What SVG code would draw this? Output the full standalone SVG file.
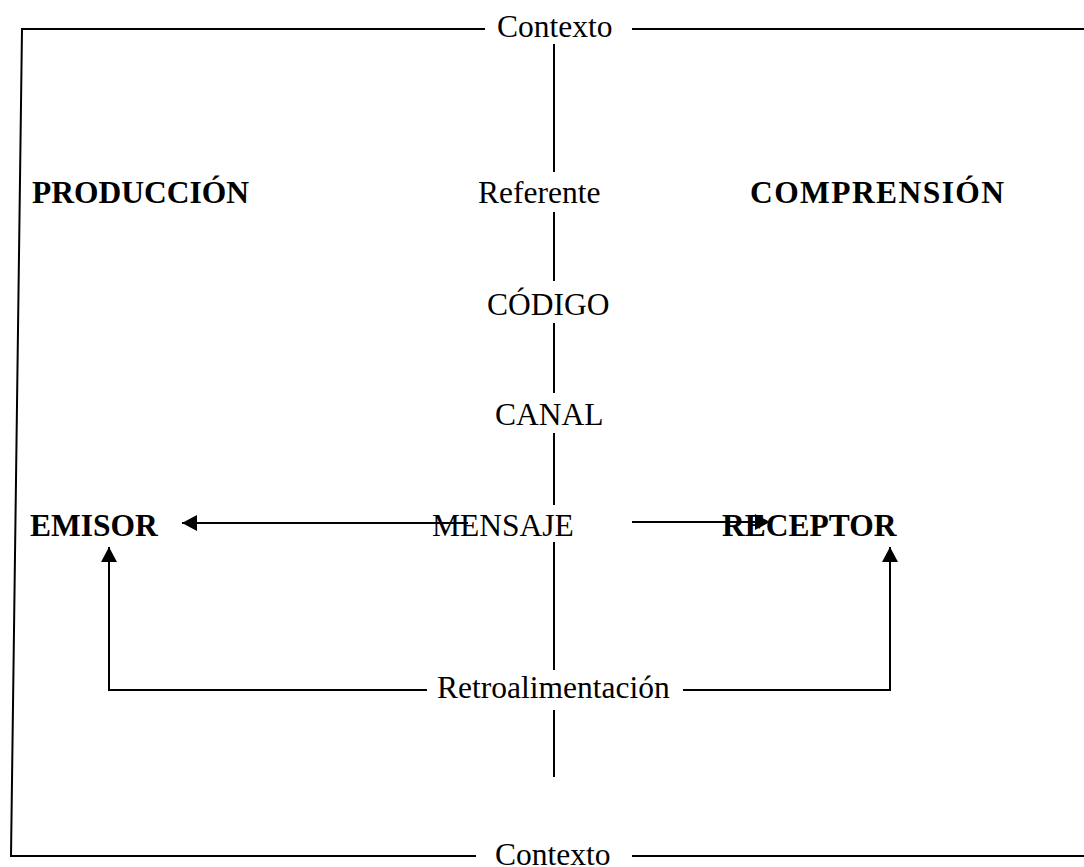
<svg xmlns="http://www.w3.org/2000/svg" width="1084" height="867" viewBox="0 0 1084 867">
<style>
text{font-family:"Liberation Serif","Times New Roman",serif;font-size:31.5px;fill:#000}
.b{font-weight:bold}
.ln{stroke:#000;stroke-width:2;fill:none}
</style>
<defs>
<marker id="ah" markerWidth="16" markerHeight="16" refX="15" refY="8" orient="auto" markerUnits="userSpaceOnUse">
<path d="M0,0 L15,8 L0,16 Z" fill="#000"/>
</marker>
</defs>
<rect width="1084" height="867" fill="#fff"/>
<g id="connectors">
<path class="ln" d="M485,29 L22,29 L11,856 L476,856"/>
<line class="ln" x1="632" y1="29" x2="1084" y2="29"/>
<line class="ln" x1="632" y1="856" x2="1084" y2="856"/>
<line class="ln" x1="554" y1="44" x2="554" y2="172"/>
<line class="ln" x1="554" y1="212" x2="554" y2="281"/>
<line class="ln" x1="554" y1="323" x2="554" y2="393"/>
<line class="ln" x1="554" y1="433" x2="554" y2="505"/>
<line class="ln" x1="554" y1="542" x2="554" y2="670"/>
<line class="ln" x1="554" y1="710" x2="554" y2="777"/>
<line class="ln" x1="468" y1="523" x2="182" y2="523" marker-end="url(#ah)"/>
<line class="ln" x1="632" y1="522" x2="770" y2="522" marker-end="url(#ah)"/>
<path class="ln" d="M427,690 L109,690 L109,547" marker-end="url(#ah)"/>
<path class="ln" d="M683,690 L890,690 L890,547" marker-end="url(#ah)"/>
</g>
<g id="contexto-top"><text x="497" y="37">Contexto</text></g>
<g id="contexto-bottom"><text x="495" y="865">Contexto</text></g>
<g id="produccion"><text class="b" x="32" y="203">PRODUCCIÓN</text></g>
<g id="comprension"><text class="b" x="750" y="203" textLength="254" lengthAdjust="spacing">COMPRENSIÓN</text></g>
<g id="referente"><text x="478" y="203">Referente</text></g>
<g id="codigo"><text x="487" y="315">CÓDIGO</text></g>
<g id="canal"><text x="495" y="425">CANAL</text></g>
<g id="mensaje"><text x="432" y="536">MENSAJE</text></g>
<g id="emisor"><text class="b" x="30" y="536">EMISOR</text></g>
<g id="receptor"><text class="b" x="722" y="536">RECEPTOR</text></g>
<g id="retro"><text x="437" y="698">Retroalimentación</text></g>
</svg>
